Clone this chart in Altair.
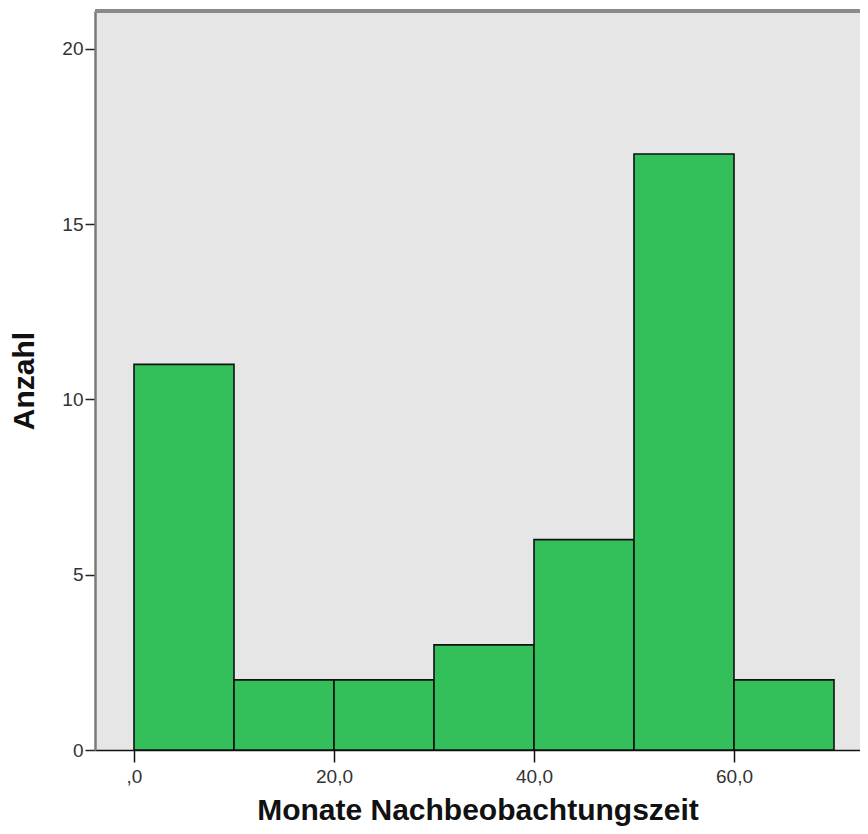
import altair as alt
import pandas as pd

bin_start = [0, 10, 20, 30, 40, 50, 60]
bin_end = [10, 20, 30, 40, 50, 60, 70]
counts = [11, 2, 2, 3, 6, 17, 2]
x_ticks = [0, 20, 40, 60]
y_ticks = [0, 5, 10, 15, 20]

df = pd.DataFrame({"start": bin_start, "end": bin_end, "count": counts})

FONT = "Liberation Sans"
W, H = 765, 739

bars = alt.Chart(df).mark_bar(
    color="#33BF59", stroke="#111111", strokeWidth=1.6
).encode(
    x=alt.X(
        "start:Q",
        scale=alt.Scale(domain=[-3.9, 72.6], nice=False, zero=False),
        axis=alt.Axis(
            values=x_ticks,
            grid=False,
            tickSize=12,
            tickColor="#111111",
            tickWidth=1.5,
            domainColor="#111111",
            domainWidth=1.5,
            labelFont=FONT,
            labelFontSize=19,
            labelColor="#333333",
            labelPadding=5,
            labelExpr="datum.value == 0 ? ',0' : replace(format(datum.value, '.1f'), '.', ',')",
            titleFont=FONT,
            titleFontSize=30,
            titleFontWeight="bold",
            titleColor="#111111",
            titlePadding=9,
        ),
        title="Monate Nachbeobachtungszeit",
    ),
    x2="end:Q",
    y=alt.Y(
        "count:Q",
        scale=alt.Scale(domain=[0, 21.08], nice=False),
        axis=alt.Axis(
            values=y_ticks,
            grid=False,
            tickSize=10,
            tickColor="#222222",
            tickWidth=1.5,
            domainColor="#7a7a7a",
            domainWidth=2.5,
            labelFont=FONT,
            labelFontSize=19,
            labelColor="#333333",
            labelPadding=2,
            titleFont=FONT,
            titleFontSize=30,
            titleFontWeight="bold",
            titleColor="#111111",
            titlePadding=22,
        ),
        title="Anzahl",
    ),
    y2=alt.datum(0),
)

top_border = alt.Chart(df).mark_rule(color="#8a8a8a", strokeWidth=3).encode(
    x=alt.value(0), x2=alt.value(W), y=alt.value(0)
)

chart = alt.layer(bars, top_border).properties(
    width=W,
    height=H,
    autosize="none",
    padding={"left": 87, "top": 3, "right": 0, "bottom": 76},
).configure_view(
    fill="#E6E6E6", strokeWidth=0
)

chart.save("out.html", embed_options={"renderer": "svg", "actions": False})
